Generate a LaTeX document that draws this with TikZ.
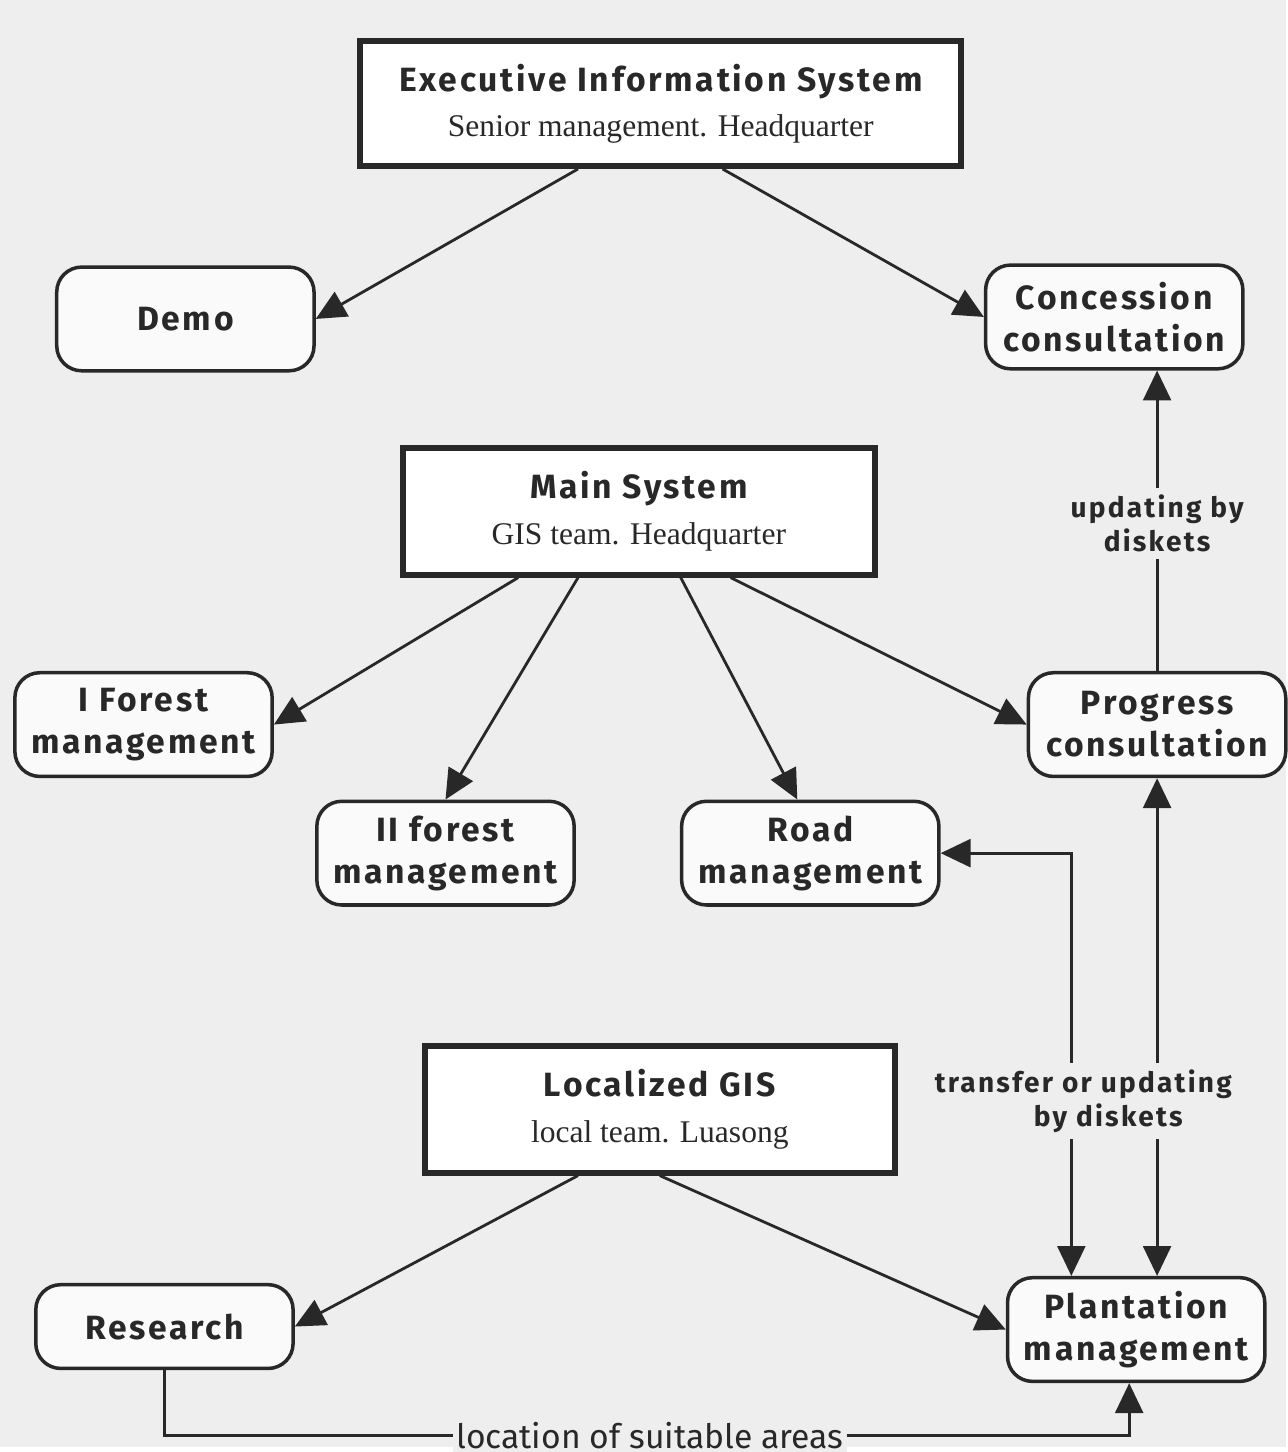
\documentclass[tikz,border=0pt]{standalone}
\usepackage{fontspec}
\setmainfont{Liberation Serif}
\newfontfamily\boxfont[LetterSpace=8]{Fira Sans}
\newfontfamily\plainsans{Fira Sans}
\usetikzlibrary{arrows.meta,positioning}
\definecolor{ink}{RGB}{40,40,40}
\definecolor{paper}{RGB}{238,238,238}

\begin{document}
\begin{tikzpicture}[x=0.01cm, y=-0.01cm, >={Triangle[length=3mm,width=2.8mm]},
  font=\boxfont\bfseries\fontsize{9.6}{12}\selectfont, line width=0.8pt, color=ink,
  sys/.style={rectangle, draw=ink, line width=1.7pt, fill=white, align=center,
              inner sep=2pt},
  rbox/.style={rectangle, rounded corners=2.5mm, draw=ink, line width=1pt,
               fill=black!2, align=center, minimum width=2.58cm,
               minimum height=1.04cm, inner sep=2pt},
  lbl/.style={fill=paper, align=center, font=\boxfont\bfseries\footnotesize,
              inner sep=2pt}]
  % page
  \fill[paper] (0,0) rectangle (1290,1452);
  % systems
  \node[sys, minimum width=6.03cm, minimum height=1.25cm] (eis) at (663,104)
    {Executive Information System\\[1pt] {\rmfamily\mdseries\fontsize{9}{11}\selectfont Senior management. Headquarter}};
  \node[sys, minimum width=4.73cm, minimum height=1.27cm] (main) at (641,513)
    {Main System\\[1pt] {\rmfamily\mdseries\fontsize{9}{11}\selectfont GIS team. Headquarter}};
  \node[sys, minimum width=4.71cm, minimum height=1.27cm] (loc) at (662,1113)
    {Localized GIS\\[1pt] {\rmfamily\mdseries\fontsize{9}{11}\selectfont local team. Luasong}};
  % applications
  \node[rbox] (demo) at (186,320) {Demo};
  \node[rbox] (conc) at (1118,318) {Concession\\ consultation};
  \node[rbox] (forI) at (144,727) {I Forest\\ management};
  \node[rbox] (forII) at (447,856) {II forest\\ management};
  \node[rbox] (road) at (813,856) {Road\\ management};
  \node[rbox] (prog) at (1161,727) {Progress\\ consultation};
  \node[rbox, minimum height=0.84cm] (res) at (165,1331) {Research};
  \node[rbox] (plant) at (1140,1334) {Plantation\\ management};
  % links
  \draw[->] ([xshift=-0.83cm]eis.south) -- (demo.east);
  \draw[->] ([xshift=0.62cm]eis.south) -- (conc.west);
  \draw[->] ([xshift=-1.21cm]main.south) -- (forI.east);
  \draw[->] ([xshift=-0.61cm]main.south) -- (forII.north);
  \draw[->] ([xshift=0.42cm]main.south) -- ([xshift=-0.13cm]road.north);
  \draw[->] ([xshift=0.92cm]main.south) -- (prog.west);
  \draw[->] (prog.north) -- (prog.north |- conc.south);
  \draw[<->] (road.east) -| ([xshift=-0.65cm]plant.north);
  \draw[<->] (prog.south) -- (prog.south |- plant.north);
  \draw[->] ([xshift=-0.82cm]loc.south) -- (res.east);
  \draw[->] (loc.south) -- (plant.west);
  \coordinate (locline) at (652,1440);
  \draw[->] (res.south) |- (locline) -| ([xshift=-0.07cm]plant.south);
  % labels
  \node[lbl] (upd) at (1161,525) {updating by\\ diskets};
  \node[lbl] (trans) at (1087,1105) {transfer or updating\\ \hspace*{0.5cm}by diskets};
  \node[lbl, font=\plainsans\fontsize{9.6}{11}\selectfont, inner sep=1pt] (suit) at (locline) {location of suitable areas};
\end{tikzpicture}
\end{document}
